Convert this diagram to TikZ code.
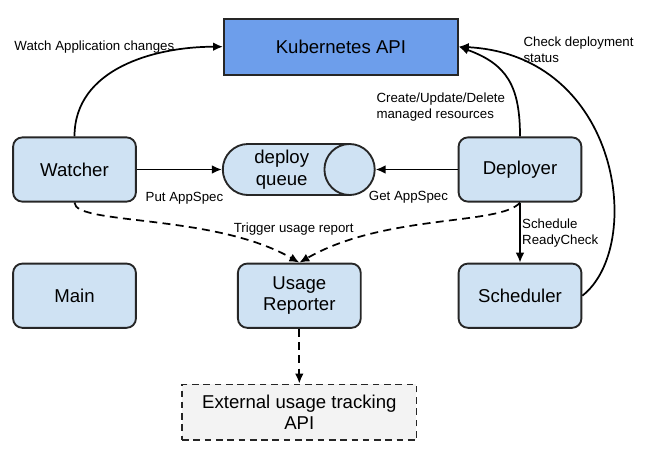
\documentclass[tikz,border=0pt]{standalone}
\usepackage{fontspec}
\setmainfont{Liberation Sans}
\usepackage{tikz}
\usetikzlibrary{shapes.geometric,arrows.meta,positioning}

\definecolor{compfill}{HTML}{CFE2F3}
\definecolor{apifill}{HTML}{6D9EEB}
\definecolor{extfill}{HTML}{F3F3F3}

\begin{document}
\begin{tikzpicture}[
    comp/.style={rectangle, rounded corners=7pt, draw=black!85, fill=compfill,
                 minimum width=3.25cm, minimum height=1.70cm,
                 align=center, font=\fontsize{14}{16}\selectfont, line width=1.4pt},
    api/.style={rectangle, draw=black!85, fill=apifill,
                minimum width=6.19cm, minimum height=1.48cm,
                align=center, font=\fontsize{14}{16}\selectfont, line width=1.4pt},
    buffer/.style={cylinder, shape aspect=1.2, draw=black!85, fill=compfill,
                   minimum width=1.35cm, minimum height=4.02cm, inner sep=1pt,
                   align=center, font=\fontsize{14}{16.5}\selectfont, line width=1.4pt},
    ext/.style={rectangle, draw=black!85, fill=extfill, dash pattern=on 5pt off 3.5pt,
                minimum width=6.2cm, minimum height=1.48cm,
                align=center, font=\fontsize{14}{15.5}\selectfont, line width=1.4pt},
    lbl/.style={font=\fontsize{10}{12}\selectfont, inner sep=1pt, align=left},
    arrow/.style={-{Latex[length=7.5pt,width=6.5pt]}, line width=1.3pt},
    dasharrow/.style={arrow, dash pattern=on 6pt off 4pt}
]
    \useasboundingbox (-1.971,-7.581) rectangle (15.228,4.485);

    % Upper row: watcher, queue, deployer
    \node[comp] (watcher) at (0,0) {Watcher};
    \node[buffer, right=2.25cm of watcher] (queue) {deploy\\queue};
    \node[comp, right=2.17cm of queue] (deployer) {Deployer};
    \node[api, above right=1.61cm and 2.28cm of watcher] (kube) {Kubernetes API};

    % Lower row
    \node[comp, below=1.59cm of watcher] (main) {Main};
    \node[comp, right=2.65cm of main] (usage) {Usage\\Reporter};
    \node[comp, below=1.59cm of deployer] (scheduler) {Scheduler};
    \node[ext, below=1.45cm of usage] (ext) {External usage tracking\\API};

    % Queue arrows
    \draw[arrow] (watcher) -- node[lbl, pos=0.56, below=0.53cm] {Put AppSpec} (queue);
    \draw[arrow] (deployer) -- node[lbl, pos=0.6, below=0.53cm] {Get AppSpec} (queue);

    % Calls to the Kubernetes API
    \draw[arrow] (watcher.north) to[out=90, in=180] (kube.west);
    \draw[arrow] (deployer.north) to[out=90, in=-20, looseness=1.2] (kube.east);
    \draw[arrow] (scheduler.east) to[out=38, in=-3, out distance=2.1cm, in distance=4.3cm] (kube.east);
    \node[lbl, anchor=west] (watchlbl) at (-1.63,3.24) {Watch Application changes};
    \node[lbl, anchor=west] (crudlbl) at (7.95,1.65) {Create/Update/Delete\\managed resources};
    \node[lbl, anchor=west] (checklbl) at (11.84,3.16) {Check deployment\\status};

    % Scheduling
    \draw[arrow] (deployer) -- node[lbl, right] {Schedule\\ReadyCheck} (scheduler);

    % Usage reporting (dashed)
    \draw[dasharrow] (watcher.south) to[out=-90, in=150, out distance=0.6cm, in distance=2.6cm] (usage.north);
    \draw[dasharrow] (deployer.south) to[out=-130, in=30, out distance=0.8cm, in distance=2.6cm] (usage.north);
    \node[lbl] (triggerlbl) at (5.80,-1.57) {Trigger usage report};
    \draw[dasharrow] (usage) -- (ext);
\end{tikzpicture}
\end{document}
